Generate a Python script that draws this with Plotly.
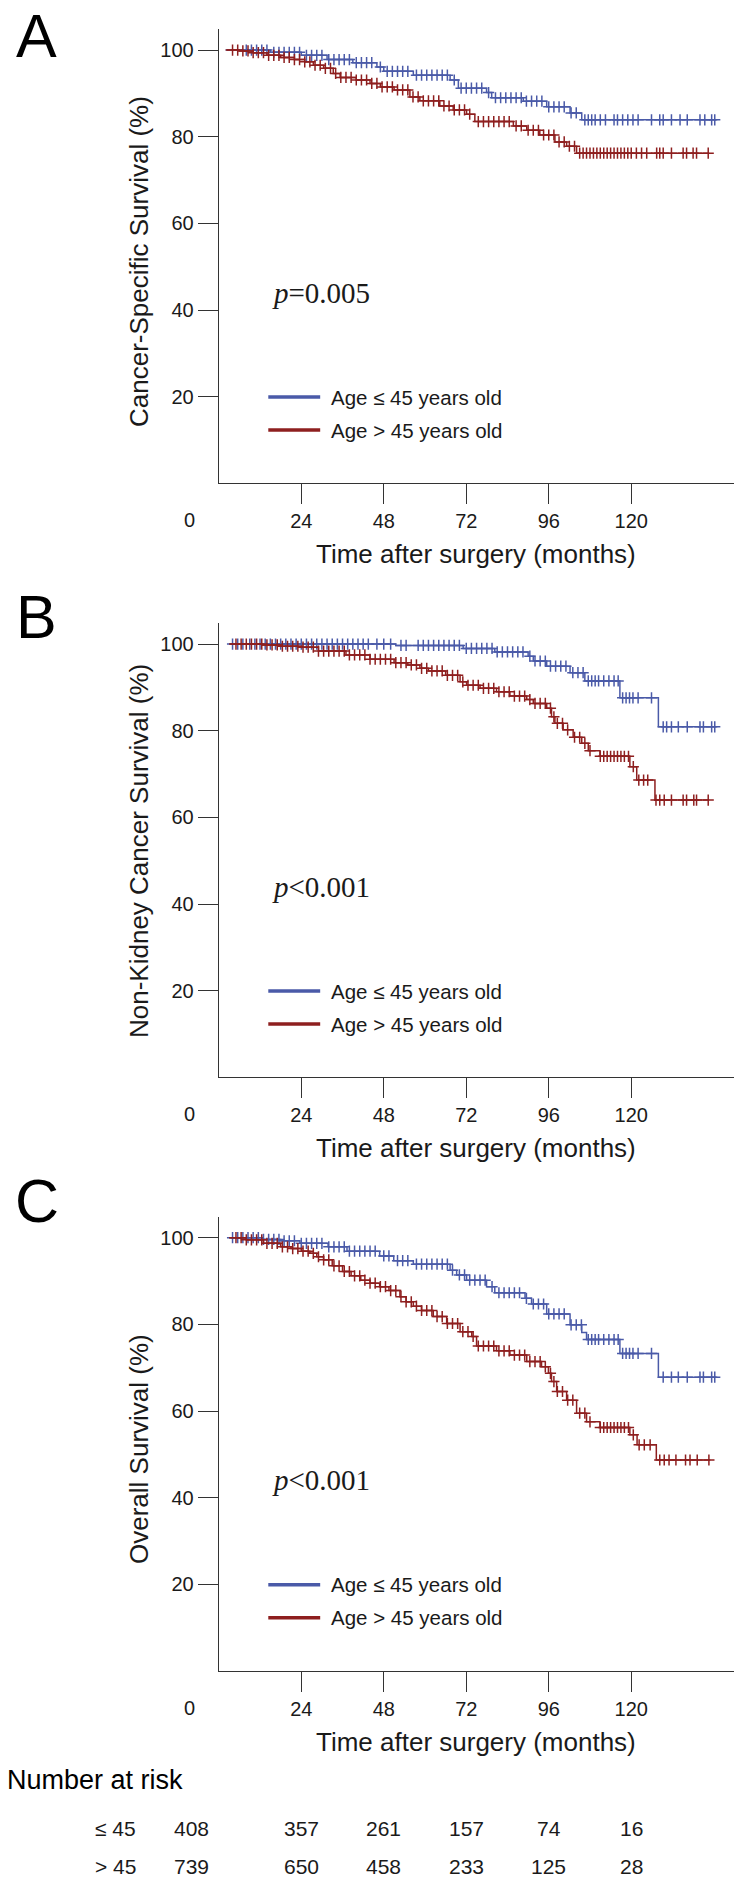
import plotly.graph_objects as go

FIG_W, FIG_H = 734, 1882
BLUE = "#4a5aa8"
RED = "#8e1f1f"
AX = "#333333"
SANS = "Liberation Sans, Arial, sans-serif"
SERIF = "Liberation Serif, Times New Roman, serif"

# ---------------- data ----------------
x_ticks = [24, 48, 72, 96, 120]
y_ticks = [20, 40, 60, 80, 100]

# Panel A: cancer-specific survival
A_le45_t = [2, 15, 24, 31.5, 39, 46, 48, 56.6, 67.3, 69.7, 77.9, 79.4, 88.6, 95.4, 102.2, 105.6]
A_le45_s = [100, 99.5, 98.8, 97.8, 97.1, 96.1, 95.1, 94.2, 93.1, 91.2, 90.2, 89.0, 88.2, 86.9, 85.5, 83.9]
A_le45_end = 144.6
A_le45_cens = [8, 9.5, 11, 12.5, 14, 16, 17.5, 19, 20.5, 22, 23.5, 25.5, 27, 28.5, 30, 32, 33.5, 35, 36.5,
               38, 40, 41.5, 43, 44.5, 47, 49, 50.5, 52, 53.5, 55, 57.5, 59, 60.5, 62, 63.5, 65, 66.5, 68.5,
               70.5, 72, 73.5, 75, 76.5, 78.5, 80.5, 82, 83.5, 85, 86.5, 88, 89.5, 91, 92.5, 94, 96, 97.5,
               99, 100.5, 102.5, 104, 106.5, 107.5, 108.5, 109.5, 111, 112.5, 115, 116, 117.5, 119, 120.5,
               122, 125.9, 128.3, 129.3, 131.7, 134.2, 136.3, 140.0, 141.4, 143.4, 144.3]

A_gt45_t = [2, 6, 10, 14, 18, 22, 25, 27.5, 30.5, 33.3, 35.3, 40, 44, 47, 51, 55.6, 58.5, 64.3, 68.2,
            72.1, 74.5, 85.7, 89.6, 93.4, 97.8, 101.2, 104.1]
A_gt45_s = [100, 99.8, 99.4, 98.8, 98.3, 97.8, 97.3, 96.5, 95.8, 94.6, 93.7, 93.1, 92.3, 91.5, 90.8, 89.2,
            88.3, 87.1, 86.2, 85.2, 83.5, 82.5, 81.5, 80.4, 78.8, 77.8, 76.2]
A_gt45_end = 142.7
A_gt45_cens = [4, 5.5, 7, 8.5, 10, 11.5, 13, 14.5, 16, 17.5, 19, 20.5, 22, 23.5, 25, 26.5, 28, 29.5, 31,
               32.5, 34, 35.5, 37, 38.5, 40, 41.5, 43, 44.5, 46, 47.5, 49, 50.5, 52, 53.5, 55, 56.5, 58,
               59.5, 61, 62.5, 64, 65.5, 67, 68.5, 70, 71.5, 73, 75.5, 77, 78.5, 80, 81.5, 83, 84.5, 86.5,
               88, 90, 91.5, 93, 94.5, 96, 97.5, 99, 100.5, 102, 103.5, 105, 106, 107, 108, 109, 110, 111,
               112, 113, 114, 115, 116, 117, 118, 119, 120, 121.5, 123, 124.5, 127.4, 128.3, 129.3,
               131.7, 135.1, 136.1, 138.0, 139.0, 142.4]

# Panel B: non-kidney cancer survival
B_le45_t = [3, 51.5, 71.1, 80.3, 90.0, 91.5, 95.4, 102.2, 106.5, 116.7, 127.9]
B_le45_s = [100, 99.7, 99.0, 98.2, 97.2, 96.1, 94.9, 93.4, 91.5, 87.6, 80.9]
B_le45_end = 144.6
B_le45_cens = [4, 5.5, 7, 9, 10.5, 12, 13.5, 15, 16.5, 18, 19.5, 21, 22.5, 24, 25.5, 27, 28.5, 30, 31.5,
               33, 34.5, 36, 37.5, 39, 40.5, 42, 43.5, 46, 48, 50, 53, 54.5, 58, 59.5, 61, 62.5, 64, 65.5,
               67, 68.5, 70, 72, 73.5, 75, 76.5, 78, 79.5, 81, 82.5, 84, 85.5, 87, 88.5, 90.5, 92, 93.5,
               95, 96.5, 98, 99.5, 101, 103, 104.5, 106, 107.5, 108.5, 109.5, 110.5, 112, 113.5, 115,
               116.2, 117.5, 118.5, 119.5, 120.5, 122, 125.9, 129.3, 130.3, 131.7, 133.7, 136.3, 140.0,
               141.0, 143.4, 144.3]

B_gt45_t = [3, 12.7, 18, 23.6, 29, 37, 44, 51, 55, 58.5, 61, 66, 70.2, 72.1, 76, 80.8, 84.7, 89.6, 91.5,
            95.4, 96.8, 97.8, 100.2, 103.1, 105.6, 107.5, 110.9, 119.6, 121.6, 126.9]
B_gt45_s = [100, 99.8, 99.5, 99.3, 98.4, 97.5, 96.5, 95.7, 95.2, 94.4, 93.8, 92.8, 91.3, 90.5, 89.8, 89.0,
            88.0, 87.2, 86.3, 85.2, 83.2, 81.7, 80.2, 78.5, 77.1, 75.4, 74.1, 71.7, 68.6, 64.0]
B_gt45_end = 142.7
B_gt45_cens = [5, 6.5, 8, 9.5, 11, 12.5, 14, 15.5, 17, 18.5, 20, 21.5, 23, 24.5, 26, 27.5, 29, 30.5, 32,
               33.5, 35, 36.5, 38, 39.5, 41, 42.5, 44, 45.5, 47, 48.5, 50, 51.5, 53, 54.5, 56, 57.5, 59,
               60.5, 62, 63.5, 65, 66.5, 68, 69.5, 71, 72.5, 74, 75.5, 77, 78.5, 80, 81.5, 83, 84.5, 86,
               87.5, 89, 90.5, 92, 93.5, 95, 96.5, 97.5, 98.5, 100, 101.5, 103.5, 105, 106.5, 108, 111,
               112, 113, 114, 115, 116, 117, 118, 119.2, 120.6, 122.2, 123.6, 124.8, 127.2, 128.3, 129.6,
               131.7, 135.1, 136.1, 138.2, 139.0, 142.4]

# Panel C: overall survival
C_le45_t = [3, 12.7, 18, 23.6, 31.8, 37.3, 46.8, 50.9, 56.6, 67.3, 69.2, 72.1, 77.9, 80.3, 89.1, 91.0,
            95.4, 102.2, 105.6, 107, 116.7, 127.9]
C_le45_s = [100, 99.6, 99.3, 98.7, 97.9, 96.9, 95.8, 94.7, 93.9, 92.5, 91.4, 90.2, 88.7, 87.3, 86.0, 84.7,
            82.4, 79.9, 78.1, 76.5, 73.3, 67.8]
C_le45_end = 144.6
C_le45_cens = [4, 5.5, 7, 8.5, 10, 11.5, 13, 14.5, 16, 17.5, 19, 20.5, 22, 24, 25.5, 27, 28.5, 30, 32,
               33.5, 35, 36.5, 38, 39.5, 41, 42.5, 44, 45.5, 48, 49.5, 52, 53.5, 55, 57.5, 59, 60.5, 62,
               63.5, 65, 66.5, 68, 70, 71.5, 73, 74.5, 76, 77.5, 79.5, 81.5, 83, 84.5, 86, 87.5, 89.5,
               91.5, 93, 94.5, 96, 97.5, 99, 100.5, 102.5, 104, 105.5, 107.5, 108.5, 109.5, 110.5, 112,
               113.5, 115, 116.2, 117.5, 118.5, 119.5, 120.5, 122, 125.9, 129.3, 131.7, 133.7, 136.3,
               140.0, 141.0, 143.4, 144.3]

C_gt45_t = [3, 8, 13, 18, 21, 24, 26.5, 28.5, 30.5, 33, 36, 38.5, 41.3, 44, 46.8, 49.5, 52.7, 54.5, 56.6,
            59, 62.4, 66.3, 70.2, 73.6, 75, 80.8, 84.7, 89.6, 93.9, 95.9, 96.8, 98.3, 101.2, 104.1, 107,
            110.9, 119.6, 121.7, 127.3]
C_gt45_s = [100, 99.5, 98.7, 97.9, 97.5, 96.9, 96.4, 95.6, 94.9, 93.5, 92.2, 91.2, 90.2, 89.5, 88.7, 87.8,
            86.4, 85.2, 84.2, 83.2, 81.8, 80.2, 78.3, 77.2, 75.0, 73.9, 72.9, 71.4, 70.2, 68.7, 66.8, 64.5,
            62.5, 59.5, 57.5, 56.2, 54.5, 52.2, 48.7]
C_gt45_end = 143.0
C_gt45_cens = [5, 6.5, 8, 9.5, 11, 12.5, 14, 15.5, 17, 18.5, 20, 21.5, 23, 24.5, 26, 27.5, 29, 30.5, 32,
               33.5, 35, 36.5, 38, 39.5, 41, 42.5, 44, 45.5, 47, 48.5, 50, 51.5, 53, 54.5, 56, 57.5, 59,
               60.5, 62, 63.5, 65, 66.5, 68, 69.5, 71, 72.5, 74, 75.5, 77, 78.5, 80, 81.5, 83, 84.5, 86,
               87.5, 89, 90.5, 92, 93.5, 95, 96.5, 97.5, 98.5, 100, 101.5, 103, 105, 106.5, 108, 111,
               112, 113, 114, 115, 116, 117, 118, 119.2, 120.6, 122.3, 123.8, 125.5, 128.3, 129.6, 131.0,
               133.0, 135.8, 137.1, 139.2, 142.6]

# Number at risk
risk_times = [0, 24, 48, 72, 96, 120]
risk_le45 = [408, 357, 261, 157, 74, 16]
risk_gt45 = [739, 650, 458, 233, 125, 28]

group_names = ["Age ≤ 45 years old", "Age > 45 years old"]
panel_letters = ["A", "B", "C"]
y_titles = ["Cancer-Specific Survival (%)", "Non-Kidney Cancer Survival (%)", "Overall Survival (%)"]
p_texts = ["<i>p</i>=0.005", "<i>p</i><0.001", "<i>p</i><0.001"]

curves = [
    [(A_le45_t, A_le45_s, A_le45_end, A_le45_cens), (A_gt45_t, A_gt45_s, A_gt45_end, A_gt45_cens)],
    [(B_le45_t, B_le45_s, B_le45_end, B_le45_cens), (B_gt45_t, B_gt45_s, B_gt45_end, B_gt45_cens)],
    [(C_le45_t, C_le45_s, C_le45_end, C_le45_cens), (C_gt45_t, C_gt45_s, C_gt45_end, C_gt45_cens)],
]
colors = [BLUE, RED]

# ---------------- geometry (pixels) ----------------
X_LEFT_PX = 218.8
Y_RANGE = [0, 104.8]
X_RANGE = [0, 149.9]
panel_px = [(29.3, 483.3), (623.3, 1077.3), (1216.9, 1671.0)]  # (top, bottom)
letter_px = [(36, 0), (36, 581), (37, 1165)]                      # (center x, box top)
ytitle_px = [(139, 262), (139, 851), (139, 1449)]


def surv_at(ts, ss, t):
    val = ss[0]
    for ti, si in zip(ts, ss):
        if ti <= t:
            val = si
    return val


fig = go.Figure()
layout = dict(
    width=FIG_W, height=FIG_H,
    margin=dict(l=0, r=0, t=0, b=0),
    paper_bgcolor="white", plot_bgcolor="white",
    showlegend=False,
    font=dict(family=SANS, color="#1a1a1a"),
)
annotations = []
shapes = []

for i in range(3):
    n = "" if i == 0 else str(i + 1)
    xa, ya = "x" + n, "y" + n
    top, bot = panel_px[i]
    layout["xaxis" + n] = dict(
        domain=[X_LEFT_PX / FIG_W, 1], range=X_RANGE, anchor=ya,
        showline=True, linecolor=AX, linewidth=1.3, mirror=False,
        ticks="outside", ticklen=20, tickwidth=1.3, tickcolor=AX,
        tickvals=x_ticks, tickfont=dict(size=20, family=SANS, color="#1a1a1a"),
        showgrid=False, zeroline=False, fixedrange=True,
    )
    layout["yaxis" + n] = dict(
        domain=[1 - bot / FIG_H, 1 - top / FIG_H], range=Y_RANGE, anchor=xa,
        showline=True, linecolor=AX, linewidth=1.3,
        ticks="outside", ticklen=20, tickwidth=1.3, tickcolor=AX,
        tickvals=y_ticks, tickfont=dict(size=20, family=SANS, color="#1a1a1a"),
        showgrid=False, zeroline=False, fixedrange=True,
    )

    for g in range(2):
        ts, ss, end, cens = curves[i][g]
        fig.add_trace(go.Scatter(
            x=ts + [end], y=ss + [ss[-1]], mode="lines", line_shape="hv",
            line=dict(color=colors[g], width=1.5), xaxis=xa, yaxis=ya,
            name=group_names[g], hoverinfo="skip",
        ))
        fig.add_trace(go.Scatter(
            x=cens, y=[surv_at(ts, ss, c) for c in cens], mode="markers",
            marker=dict(symbol="cross-thin", size=8, color=colors[g],
                        line=dict(color=colors[g], width=1.5)),
            xaxis=xa, yaxis=ya, name=group_names[g] + " (censored)", hoverinfo="skip",
        ))

    # panel letter
    lx, ly = letter_px[i]
    annotations.append(dict(text=panel_letters[i], xref="paper", yref="paper",
                            x=lx / FIG_W, y=1 - ly / FIG_H, xanchor="center", yanchor="top",
                            showarrow=False, font=dict(size=61, family=SANS, color="black")))
    # y title
    tx, ty = ytitle_px[i]
    annotations.append(dict(text=y_titles[i], xref="paper", yref="paper",
                            x=tx / FIG_W, y=1 - ty / FIG_H, xanchor="center", yanchor="middle",
                            textangle=-90, showarrow=False,
                            font=dict(size=26, family=SANS, color="#1a1a1a")))
    # x title
    annotations.append(dict(text="Time after surgery (months)", xref=xa + " domain", yref=ya + " domain",
                            x=0.5, y=0, yshift=-71, xanchor="center", yanchor="middle",
                            showarrow=False, font=dict(size=26, family=SANS, color="#1a1a1a")))
    # offset "0" tick label
    annotations.append(dict(text="0", xref=xa, yref=ya, x=0, y=0, xshift=-29, yshift=-37,
                            xanchor="center", yanchor="middle", showarrow=False,
                            font=dict(size=20, family=SANS, color="#1a1a1a")))
    # p value
    annotations.append(dict(text=p_texts[i], xref=xa, yref=ya, x=14.8, y=44,
                            xanchor="left", yanchor="middle", showarrow=False,
                            font=dict(size=29, family=SERIF, color="#1a1a1a")))
    # legend
    for g, ly_val in enumerate([19.9, 12.3]):
        shapes.append(dict(type="line", xref=xa, yref=ya, x0=14.4, x1=29.5, y0=ly_val, y1=ly_val,
                           line=dict(color=colors[g], width=3.5)))
        annotations.append(dict(text=group_names[g], xref=xa, yref=ya, x=32.2, y=ly_val,
                                xanchor="left", yanchor="middle", showarrow=False,
                                font=dict(size=20.5, family=SANS, color="#1a1a1a")))

# Number at risk table
annotations.append(dict(text="Number at risk", xref="paper", yref="paper", x=5 / FIG_W,
                        y=1 - 1780 / FIG_H, xanchor="left", yanchor="middle", showarrow=False,
                        font=dict(size=27, family=SANS, color="black")))
for row_label, vals, ypx in [("≤ 45", risk_le45, 1828.5), ("> 45", risk_gt45, 1866.5)]:
    annotations.append(dict(text=row_label, xref="paper", yref="paper", x=115 / FIG_W,
                            y=1 - ypx / FIG_H, xanchor="center", yanchor="middle", showarrow=False,
                            font=dict(size=21, family=SANS, color="#1a1a1a")))
    for t, v in zip(risk_times, vals):
        annotations.append(dict(text=str(v), xref="x3", yref="paper", x=t,
                                xshift=(-27 if t == 0 else 0),
                                y=1 - ypx / FIG_H, xanchor="center", yanchor="middle",
                                showarrow=False, font=dict(size=21, family=SANS, color="#1a1a1a")))

layout["annotations"] = annotations
layout["shapes"] = shapes
fig.update_layout(**layout)
fig.write_html("out.html", config={"displayModeBar": False},
               post_script="document.body.style.margin='0';document.body.style.overflow='hidden';")
